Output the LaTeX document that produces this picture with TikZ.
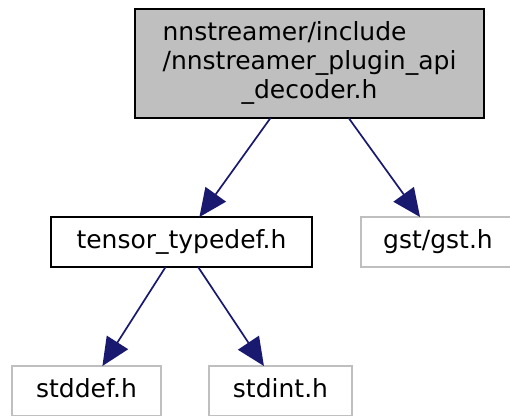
\documentclass[tikz,border=0pt]{standalone}
\usepackage{fontspec}
\setmainfont{DejaVu Sans}
\usetikzlibrary{arrows.meta}
\definecolor{edgeblue}{HTML}{191970}
\definecolor{boxgray}{HTML}{BFBFBF}
\definecolor{linegray}{HTML}{BFBFBF}
\begin{document}
\begin{tikzpicture}[x=1pt,y=-1pt,
  every node/.style={font=\fontsize{25}{29}\selectfont, inner sep=0pt, outer sep=0pt},
  filebox/.style={draw=black, line width=1.4pt, fill=white, rectangle, text height=19pt, text depth=6pt},
  extbox/.style={draw=linegray, line width=1.4pt, fill=white, rectangle, text height=19pt, text depth=6pt},
  topbox/.style={draw=black, line width=1.4pt, fill=boxgray, rectangle},
  edge/.style={draw=edgeblue, line width=1.7pt, -{Triangle[length=28pt,width=25pt]}}]
\useasboundingbox (0,0) rectangle (510,415);
\node[topbox, minimum width=349pt, minimum height=109pt] (top) at (309.5,63.5)
  {\begin{tabular}{@{}l@{}}nnstreamer/include\\/nnstreamer\_plugin\_api\\\multicolumn{1}{@{}c@{}}{\_decoder.h}\end{tabular}};
\node[filebox, minimum width=261pt, minimum height=50pt] (tensor) at (181.5,242) {tensor\_typedef.h};
\node[extbox, minimum width=154pt, minimum height=50pt] (gst) at (438,242) {gst/gst.h};
\node[extbox, minimum width=149pt, minimum height=50pt] (stddef) at (86.5,391) {stddef.h};
\node[extbox, minimum width=143pt, minimum height=50pt] (stdint) at (280.5,391) {stdint.h};
\draw[edge] (top) -- (tensor);
\draw[edge] (top) -- (gst);
\draw[edge] (tensor) -- (stddef);
\draw[edge] (tensor) -- (stdint);
\end{tikzpicture}
\end{document}
